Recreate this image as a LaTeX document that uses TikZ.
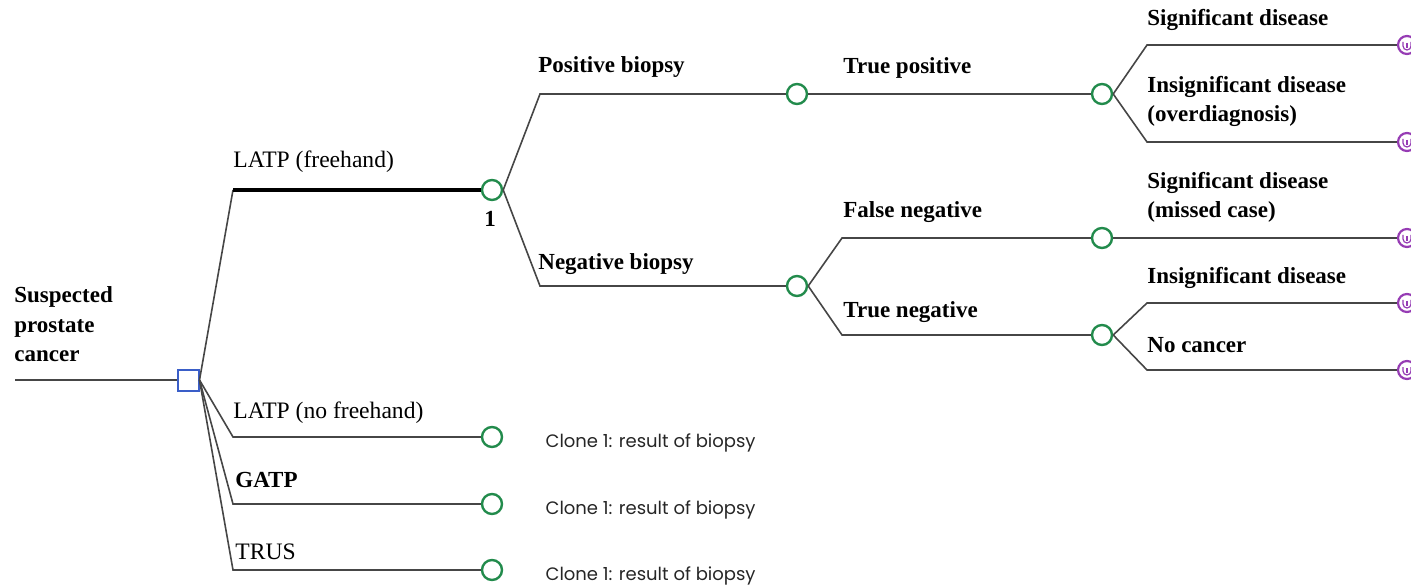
\documentclass[tikz,border=0pt]{standalone}
\usepackage{fontspec}
\setmainfont{Liberation Serif}
\newfontfamily\clonefont{Poppins}
\usetikzlibrary{calc,positioning}

\definecolor{chgreen}{RGB}{34,139,76}
\definecolor{decblue}{RGB}{58,94,200}
\definecolor{termpurple}{RGB}{150,60,180}
\definecolor{branchgray}{RGB}{70,70,70}

\tikzset{
  chance/.style={circle, draw=chgreen, line width=1.2pt, fill=white, minimum size=10pt, inner sep=0pt},
  decision/.style={rectangle, draw=decblue, line width=1pt, fill=white, minimum size=10.5pt, inner sep=0pt},
  terminal/.style={circle, draw=termpurple, line width=1.1pt, fill=white, minimum size=9pt, inner sep=0pt,
    path picture={
      \draw[termpurple, line width=0.6pt] ([shift={(-2pt,1.5pt)}]path picture bounding box.center) -- ++(0,-2pt)
        arc[start angle=180, end angle=360, radius=2pt] -- ++(0,2pt);
      \draw[termpurple, line width=0.6pt] ([shift={(0,1pt)}]path picture bounding box.center) -- ++(0,-2.5pt);
    }},
  branch/.style={draw=branchgray, line width=0.8pt},
  lbl/.style={anchor=base west, inner sep=0pt, align=left, font=\fontsize{11.5}{14.5}\selectfont\bfseries},
  arm/.style={anchor=base west, inner sep=0pt, font=\fontsize{11.8}{14}\selectfont},
  clone/.style={anchor=west, inner sep=0pt, text=black!85, font=\clonefont\fontsize{9}{11}\selectfont},
}

\begin{document}
\begin{tikzpicture}[x=0.5pt, y=-0.5pt]
        \useasboundingbox (0,0) rectangle (1411,587);

        % decision and chance nodes
        \node[decision] (dec) at (188,380) {};
        \node[chance] (ch1) at (492,190) {};
        \node[chance] (cNF) at (492,437) {};
        \node[chance] (cG) at (492,504) {};
        \node[chance] (cT) at (492,570) {};
        \node[chance] (chPos) at (797,94) {};
        \node[chance] (chNeg) at (797,286) {};
        \node[chance] (chTP) at (1102,94) {};
        \node[chance] (chFN) at (1102,238) {};
        \node[chance] (chTN) at (1102,335) {};

        % terminal nodes
        \node[terminal] (t1) at (1407,45) {};
        \node[terminal] (t2) at (1407,142) {};
        \node[terminal] (t3) at (1407,238) {};
        \node[terminal] (t4) at (1407,303) {};
        \node[terminal] (t5) at (1407,370) {};

        % elbows
        \coordinate (root) at (15,380);
        \coordinate (e1) at (233,190);
        \coordinate (e2) at (233,437);
        \coordinate (e3) at (233,504);
        \coordinate (e4) at (233,570);
        \coordinate (e5) at (540,94);
        \coordinate (e6) at (540,286);
        \coordinate (e7) at (842,238);
        \coordinate (e8) at (842,335);
        \coordinate (e9) at (1147,45);
        \coordinate (e10) at (1147,142);
        \coordinate (e11) at (1147,303);
        \coordinate (e12) at (1147,370);

        \draw[branch] (root) -- (dec);
        \draw[branch] (dec.east) -- (e1);
        \draw[black, line width=1.6pt] (e1) -- (ch1);
        \draw[branch] (dec.east) -- (e2) -- (cNF);
        \draw[branch] (dec.east) -- (e3) -- (cG);
        \draw[branch] (dec.east) -- (e4) -- (cT);
        \draw[branch] (ch1.east) -- (e5) -- (chPos);
        \draw[branch] (ch1.east) -- (e6) -- (chNeg);
        \draw[branch] (chPos) -- (chTP);
        \draw[branch] (chNeg.east) -- (e7) -- (chFN);
        \draw[branch] (chNeg.east) -- (e8) -- (chTN);
        \draw[branch] (chTP.east) -- (e9) -- (t1);
        \draw[branch] (chTP.east) -- (e10) -- (t2);
        \draw[branch] (chFN) -- (t3);
        \draw[branch] (chTN.east) -- (e11) -- (t4);
        \draw[branch] (chTN.east) -- (e12) -- (t5);

        % labels (base = last line)
        \node[lbl] (lRoot) at (14,361) {Suspected\\prostate\\cancer};
        \node[arm] (lFree) at ($(e1)+(0,-22)$) {LATP (freehand)};
        \node[arm] (lNoFree) at ($(e2)+(0,-19)$) {LATP (no freehand)};
        \node[lbl] (lGATP) at ($(e3)+(2,-17)$) {GATP};
        \node[arm] (lTRUS) at ($(e4)+(2,-11)$) {TRUS};
        \node[lbl, below=5pt of ch1, xshift=-1pt] (lOne) {1};
        \node[lbl] (lPos) at ($(e5)+(-2,-21)$) {Positive biopsy};
        \node[lbl] (lNeg) at ($(e6)+(-2,-16)$) {Negative biopsy};
        \node[lbl] (lTP) at (843,74) {True positive};
        \node[lbl] (lFN) at ($(e7)+(1,-20)$) {False negative};
        \node[lbl] (lTN) at ($(e8)+(1,-17)$) {True negative};
        \node[lbl] (lSig) at ($(e9)+(0,-19)$) {Significant disease};
        \node[lbl] (lOver) at ($(e10)+(0,-20)$) {Insignificant disease\\(overdiagnosis)};
        \node[lbl] (lMiss) at ($(e7)+(305,-20)$) {Significant disease\\(missed case)};
        \node[lbl] (lInsig) at ($(e11)+(0,-19)$) {Insignificant disease};
        \node[lbl] (lNo) at ($(e12)+(0,-18)$) {No cancer};

        % clones
        \node[clone, right=21pt of cNF, yshift=-3pt] (cl1) {Clone 1: result of biopsy};
        \node[clone, right=21pt of cG, yshift=-3pt] (cl2) {Clone 1: result of biopsy};
        \node[clone, right=21pt of cT, yshift=-3pt] (cl3) {Clone 1: result of biopsy};
\end{tikzpicture}
\end{document}
